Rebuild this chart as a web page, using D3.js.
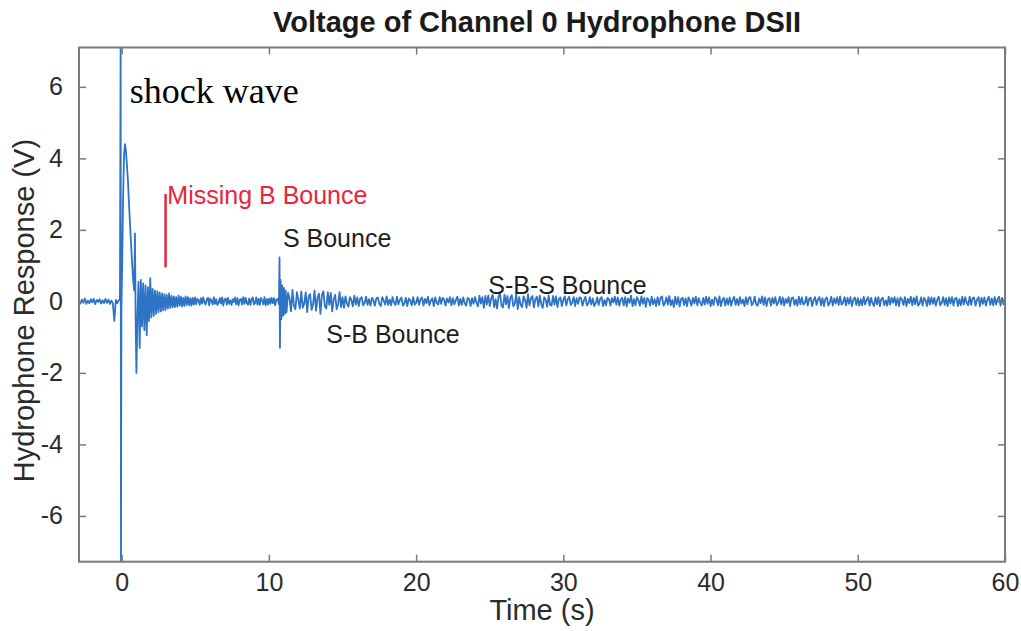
<!DOCTYPE html>
<html>
<head>
<meta charset="utf-8">
<script src="https://cdn.jsdelivr.net/npm/d3@7"></script>
<style>
  html, body { margin: 0; padding: 0; background: #fff; }
  svg { display: block; }
</style>
</head>
<body>
<svg id="chart" width="1021" height="631"></svg>
<script>
// ---------------- DATA (values in hundredths of a volt) ----------------
const title = "Voltage of Channel 0 Hydrophone DSII";
const xLabel = "Time (s)";
const yLabel = "Hydrophone Response (V)";
const xTicks = [0, 10, 20, 30, 40, 50, 60];
const yTicks = [-6, -4, -2, 0, 2, 4, 6];
const xDomain = [-2.9, 60];
const yDomain = [-7.28, 7.1];

// pre-shock noise: sampled from -2.9 s every 0.1 s
const preStart = -2.9, preStep = 0.1;
const preValues = [3,-6,5,-4,8,-7,2,-5,6,-3, 7,-8,4,-2,6,-6,3,-5,7,-4, 5,-7,2,-6,-55,4,-5,3];

// shock wave arrival (irregular samples)
const shockT = [-0.12, -0.07, -0.05, -0.02, 0.04, 0.1, 0.16, 0.22, 0.28, 0.34, 0.42, 0.5, 0.6, 0.7, 0.78, 0.85, 0.9, 0.95, 1.0];
const shockV = [6, 760, -760, -30, 120, 300, 410, 440, 425, 390, 340, 270, 190, 110, 60, 30, 190, -60, -200];

// decaying ringing after shock: from 1.06 s every 0.08 s
const ringStart = 1.06, ringStep = 0.08;
const ringValues = [
  -60,55,-130,60,-70,50,-80,45,-95,40, -55,65,-45,35,-40,30,-35,28,-30,25,
  -28,22,-25,20,-24,18,-20,22,-18,15, -17,14,-16,12,-15,16,-12,13,-14,10,
  -13,14,-10,12,-11,9,-12,10,-9,11,
  -8,7,4,-10,9,-6,11,-3,-9,6,
  10,-11,8,2,-9,12,-7,6,-10,-4,
  9,-6,11,-12,5,8,-9,10,-7,3,
  -10,6,-2,11,-8,9,-11,4,7,-9,
  12,-7,10,-5,-9,8,-10,6,11,-8,
  -4,11,-9,7,-10,10,3,-8,12,-11,
  6,-9,8,-7,10,-5,9,-11,4,7
];

// surface bounce (irregular samples)
const sBounceT = [10.62, 10.68, 10.72, 10.75, 10.79, 10.84, 10.9, 10.96, 11.02, 11.08, 11.14];
const sBounceV = [5, -8, 123, -130, 60, -50, 45, -40, 38, -35, 30];

// remaining record: from 11.2 s every 0.1 s
const tailStart = 11.2, tailStep = 0.1;
const tailValues = [
  -30,24,8,-28,32,-12,-22,26,5,-20,
  28,-18,-6,25,-30,14,20,-24,-8,30,
  -26,10,22,-35,18,28,-14,-20,26,-10,
  24,-28,6,18,-22,-8,26,-16,12,-18,
  14,-6,-15,12,4,-14,16,-9,11,-13,
  8,12,-11,-4,13,-10,6,-12,10,3,
  -12,9,11,-7,-13,12,2,-9,14,-10,
  5,-11,12,-3,-10,13,-8,4,11,-12,
  -6,10,-13,8,3,-11,12,-9,-4,12,
  -10,6,11,-12,7,-5,13,-11,2,9,
  -13,11,-4,-9,12,-7,10,5,-12,8,
  -3,12,-11,9,-8,4,13,-12,7,-10,
  11,-5,-12,10,6,-13,9,-7,12,-4,
  -14,16,-6,12,-18,15,-9,17,-13,8,
  18,-16,6,-20,14,22,-12,-17,19,-8,
  15,-19,10,17,-14,-6,20,-22,12,-10,
  -16,14,4,-18,20,-11,9,15,-17,6,
  13,-14,16,-7,-18,12,5,-15,17,-10,
  -12,15,-9,14,-16,7,11,-13,4,14,
  -11,6,13,-10,-4,12,-13,9,-7,11,
  10,-12,3,13,-11,-6,12,-9,8,-13,
  -5,11,-10,7,12,-13,4,-11,10,6,
  -12,9,-3,13,-9,11,-12,5,10,-11,
  12,-14,8,-4,16,-13,6,-11,12,3,
  -12,14,-7,10,-15,9,4,-12,13,-8,
  6,-13,12,-10,9,14,-12,-5,11,-9,
  15,-11,4,-16,13,-8,12,-14,7,10,
  -10,8,-13,11,2,-12,10,-6,13,-11,
  9,-4,-12,10,-9,13,-7,11,-13,5,
  -10,12,6,-11,14,-13,3,10,-12,8,
  -9,11,-12,4,13,-10,7,-11,12,-6,
  5,-13,11,-8,10,12,-11,-4,13,-9,
  -12,8,-5,14,-10,11,-13,6,9,-12,
  10,-6,12,-11,-3,13,-9,11,-12,7,
  -4,12,-13,9,11,-10,5,-12,13,-8,
  11,-9,-5,13,-12,8,10,-13,4,12,
  -10,6,12,-11,9,-13,7,11,-12,-3,
  13,-12,8,-6,11,-10,14,-9,-4,12,
  -11,10,-7,12,-13,5,11,-10,9,-12,
  6,-11,13,-9,4,12,-12,10,-5,-13,
  11,-8,12,-13,7,10,-11,3,-12,13,
  -9,10,-4,12,-11,9,-13,11,6,-10,
  12,-13,7,-5,13,-11,10,-8,14,-12,
  -6,11,-12,10,4,-13,12,-9,11,-7,
  10,-12,5,13,-11,-4,12,-10,9,-13,
  11,-6,12,-12,8,10,-13,6,-11,13,
  -9,12,-4,-11,13,-10,9,11,-12,5,
  12,-13,10,-7,11,-12,4,13,-10,8,
  -11,12,-9,6,13,-12,10,-8,11
];

const annotations = [
  { text: "shock wave", t: 0.55, v: 5.55, cls: "serif" },
  { text: "Missing B Bounce", t: 3.1, v: 2.73, cls: "red" },
  { text: "S Bounce", t: 10.95, v: 1.52, cls: "black" },
  { text: "S-B Bounce", t: 13.9, v: -1.17, cls: "black" },
  { text: "S-B-S Bounce", t: 24.9, v: 0.22, cls: "black" }
];
const markerT = 2.98, markerV = [0.95, 3.0];

// ---------------- BUILD SERIES ----------------
const series = [];
preValues.forEach((v, i) => series.push([preStart + i * preStep, v / 100]));
shockT.forEach((t, i) => series.push([t, shockV[i] / 100]));
ringValues.forEach((v, i) => series.push([ringStart + i * ringStep, v / 100]));
sBounceT.forEach((t, i) => series.push([t, sBounceV[i] / 100]));
tailValues.forEach((v, i) => series.push([tailStart + i * tailStep, v / 100]));

// ---------------- DRAW ----------------
const L = 79, R = 1005, T = 47.5, B = 561.7;
const svg = d3.select("#chart");
const x = d3.scaleLinear().domain(xDomain).range([L, R]);
const y = d3.scaleLinear().domain(yDomain).range([B, T]);

const axisColor = "#7a7a7a";
const textColor = "#2b2b2b";
const font = "'Liberation Sans', Arial, Helvetica, sans-serif";
const fmt = d => String(d);

svg.append("defs").append("clipPath").attr("id", "plotclip")
  .append("rect").attr("x", L).attr("y", T).attr("width", R - L).attr("height", B - T);

// signal
svg.append("path")
  .datum(series)
  .attr("clip-path", "url(#plotclip)")
  .attr("fill", "none")
  .attr("stroke", "#2e74c6")
  .attr("stroke-width", 1.8)
  .attr("stroke-linejoin", "round")
  .attr("d", d3.line().x(d => x(d[0])).y(d => y(d[1])));

// axes
function styleAxis(g, showLabels) {
  g.select(".domain").remove();
  g.selectAll(".tick line").attr("stroke", axisColor).attr("stroke-width", 1.5);
  g.selectAll(".tick text")
    .attr("fill", textColor)
    .style("font-family", font)
    .style("font-size", "25px")
    .style("display", showLabels ? null : "none");
}
svg.append("g").attr("transform", `translate(0,${B})`)
  .call(d3.axisBottom(x).tickValues(xTicks).tickSize(-7).tickPadding(12).tickFormat(fmt))
  .call(g => styleAxis(g, true))
  .selectAll(".tick text").attr("dy", "0.71em");
svg.append("g").attr("transform", `translate(0,${T})`)
  .call(d3.axisTop(x).tickValues(xTicks).tickSize(-7).tickFormat(""))
  .call(g => styleAxis(g, false));
svg.append("g").attr("transform", `translate(${L},0)`)
  .call(d3.axisLeft(y).tickValues(yTicks).tickSize(-7).tickPadding(16).tickFormat(fmt))
  .call(g => styleAxis(g, true));
svg.append("g").attr("transform", `translate(${R},0)`)
  .call(d3.axisRight(y).tickValues(yTicks).tickSize(-7).tickFormat(""))
  .call(g => styleAxis(g, false));

// frame
svg.append("rect")
  .attr("x", L).attr("y", T).attr("width", R - L).attr("height", B - T)
  .attr("fill", "none").attr("stroke", axisColor).attr("stroke-width", 2);

// title and labels
svg.append("text")
  .attr("x", (L + R) / 2 - 5).attr("y", 32)
  .attr("text-anchor", "middle")
  .style("font-family", font).style("font-weight", "bold").style("font-size", "29px")
  .attr("fill", "#1a1a1a")
  .text(title);
svg.append("text")
  .attr("x", (L + R) / 2 ).attr("y", 620)
  .attr("text-anchor", "middle")
  .style("font-family", font).style("font-size", "29px")
  .attr("fill", textColor)
  .text(xLabel);
svg.append("text")
  .attr("transform", `translate(34,${(T + B) / 2 + 6}) rotate(-90)`)
  .attr("text-anchor", "middle")
  .style("font-family", font).style("font-size", "29px")
  .attr("fill", textColor)
  .text(yLabel);

// annotation marker
svg.append("line")
  .attr("x1", x(markerT)).attr("x2", x(markerT))
  .attr("y1", y(markerV[0])).attr("y2", y(markerV[1]))
  .attr("stroke", "#e8263c").attr("stroke-width", 2.5);

annotations.forEach(a => {
  const t = svg.append("text")
    .attr("x", x(a.t)).attr("y", y(a.v))
    .text(a.text);
  if (a.cls === "serif") {
    t.style("font-family", "'Liberation Serif', 'Times New Roman', serif").style("font-size", "36px").attr("fill", "#000");
  } else if (a.cls === "red") {
    t.style("font-family", font).style("font-size", "25px").attr("fill", "#e8263c");
  } else {
    t.style("font-family", font).style("font-size", "25px").attr("fill", "#1f1f1f");
  }
});
</script>
</body>
</html>
